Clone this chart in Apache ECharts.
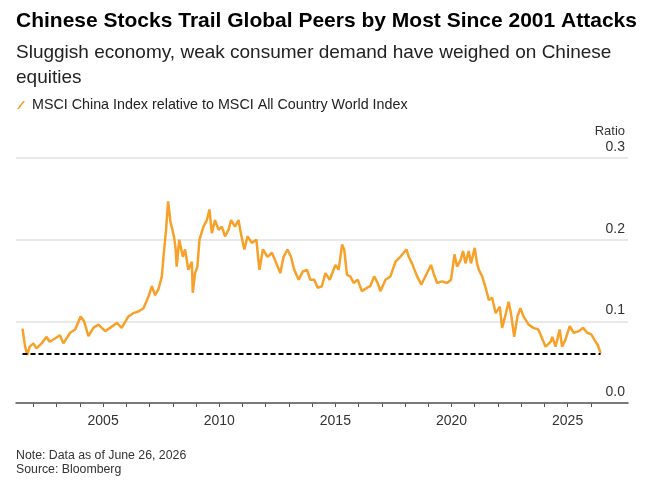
<!DOCTYPE html>
<html>
<head>
<meta charset="utf-8">
<script src="https://cdn.jsdelivr.net/npm/echarts@6/dist/echarts.min.js"></script>
<style>
html, body { margin: 0; padding: 0; background: #fff; }
#chart { width: 650px; height: 487px; }
</style>
</head>
<body>
<div id="chart"></div>
<script>
// MSCI China / MSCI ACWI ratio (decimal years)
var dates = [
	2001.53, 2001.64, 2001.74, 2001.84, 2002.0, 2002.13, 2002.35, 2002.57, 2002.7, 2002.93,
	2003.14, 2003.29, 2003.58, 2003.8, 2004.03, 2004.18, 2004.37, 2004.58, 2004.8, 2005.09,
	2005.3, 2005.59, 2005.8, 2006.09, 2006.3, 2006.52, 2006.74, 2006.95, 2007.1, 2007.24,
	2007.38, 2007.53, 2007.6, 2007.71, 2007.8, 2007.9, 2007.96, 2008.05, 2008.12, 2008.17,
	2008.28, 2008.43, 2008.53, 2008.67, 2008.82, 2008.86, 2008.96, 2009.06, 2009.15, 2009.32,
	2009.47, 2009.58, 2009.68, 2009.82, 2009.97, 2010.11, 2010.25, 2010.4, 2010.51, 2010.68,
	2010.83, 2010.93, 2011.08, 2011.22, 2011.4, 2011.6, 2011.73, 2011.88, 2012.08, 2012.27,
	2012.46, 2012.63, 2012.77, 2012.94, 2013.09, 2013.23, 2013.42, 2013.6, 2013.78, 2013.92,
	2014.09, 2014.24, 2014.42, 2014.57, 2014.76, 2015.0, 2015.14, 2015.29, 2015.38, 2015.5,
	2015.64, 2015.79, 2015.96, 2016.14, 2016.36, 2016.5, 2016.67, 2016.82, 2016.94, 2017.16,
	2017.37, 2017.59, 2017.8, 2017.94, 2018.06, 2018.16, 2018.3, 2018.52, 2018.7, 2018.91,
	2019.12, 2019.25, 2019.38, 2019.59, 2019.81, 2019.98, 2020.13, 2020.24, 2020.39, 2020.5,
	2020.6, 2020.74, 2020.84, 2021.0, 2021.1, 2021.18, 2021.32, 2021.47, 2021.61, 2021.75,
	2021.9, 2022.08, 2022.18, 2022.31, 2022.46, 2022.56, 2022.7, 2022.84, 2022.97, 2023.1,
	2023.32, 2023.53, 2023.74, 2023.89, 2024.05, 2024.27, 2024.34, 2024.48, 2024.66, 2024.76,
	2024.9, 2025.09, 2025.26, 2025.48, 2025.67, 2025.84, 2026.02, 2026.16, 2026.3, 2026.42
];
var ratio = [
	0.091, 0.069, 0.059, 0.069, 0.073, 0.067, 0.073, 0.081, 0.075, 0.079,
	0.083, 0.073, 0.086, 0.090, 0.106, 0.100, 0.082, 0.092, 0.096, 0.088,
	0.092, 0.098, 0.092, 0.106, 0.110, 0.112, 0.116, 0.130, 0.143, 0.132,
	0.139, 0.155, 0.179, 0.212, 0.247, 0.222, 0.215, 0.204, 0.190, 0.167,
	0.200, 0.179, 0.188, 0.163, 0.173, 0.135, 0.159, 0.167, 0.200, 0.216,
	0.224, 0.237, 0.208, 0.224, 0.212, 0.216, 0.204, 0.212, 0.224, 0.216,
	0.224, 0.208, 0.188, 0.204, 0.196, 0.200, 0.163, 0.188, 0.179, 0.184,
	0.171, 0.159, 0.179, 0.188, 0.179, 0.163, 0.151, 0.161, 0.163, 0.151,
	0.151, 0.141, 0.143, 0.159, 0.151, 0.169, 0.163, 0.194, 0.188, 0.157,
	0.155, 0.147, 0.151, 0.137, 0.141, 0.143, 0.155, 0.147, 0.137, 0.151,
	0.155, 0.173, 0.179, 0.184, 0.188, 0.179, 0.171, 0.155, 0.145, 0.157,
	0.169, 0.157, 0.147, 0.149, 0.147, 0.151, 0.182, 0.167, 0.175, 0.186,
	0.171, 0.186, 0.171, 0.190, 0.171, 0.163, 0.155, 0.141, 0.126, 0.129,
	0.110, 0.118, 0.092, 0.106, 0.124, 0.110, 0.081, 0.106, 0.116, 0.106,
	0.096, 0.092, 0.090, 0.080, 0.069, 0.075, 0.081, 0.069, 0.090, 0.069,
	0.077, 0.094, 0.086, 0.088, 0.092, 0.086, 0.084, 0.077, 0.071, 0.061
];
var yearTicks = [2002, 2003, 2004, 2005, 2006, 2007, 2008, 2009, 2010, 2011, 2012, 2013,
	2014, 2015, 2016, 2017, 2018, 2019, 2020, 2021, 2022, 2023, 2024, 2025, 2026];
var yearLabels = [2005, 2010, 2015, 2020, 2025];
var lowLevel = 0.06;

var seriesName = 'MSCI China Index relative to MSCI All Country World Index';
var orange = '#f7a12b';
var font = '"Liberation Sans", Arial, sans-serif';

var points = dates.map(function(d, i) { return [d, ratio[i]]; });

var myChart = echarts.init(document.getElementById('chart'));

var option = {
	animation: false,
	backgroundColor: '#fff',
	textStyle: { fontFamily: font },
	title: [{
		text: 'Chinese Stocks Trail Global Peers by Most Since 2001 Attacks',
		left: 16, top: 11, padding: 0,
		textStyle: { fontSize: 21, fontWeight: 'bold', color: '#000', fontFamily: font }
	}, {
		text: 'Sluggish economy, weak consumer demand have weighed on Chinese\nequities',
		left: 16, top: 40, padding: 0,
		textStyle: { fontSize: 19, fontWeight: 'normal', color: '#222', lineHeight: 25, fontFamily: font }
	}, {
		text: 'Note: Data as of June 26, 2026\nSource: Bloomberg',
		left: 16, top: 449, padding: 0,
		textStyle: { fontSize: 12.3, fontWeight: 'normal', color: '#333', lineHeight: 14, fontFamily: font }
	}, {
		text: 'Ratio',
		right: 25, top: 125, padding: 0,
		textStyle: { fontSize: 13, fontWeight: 'normal', color: '#333', fontFamily: font }
	}],
	legend: {
		left: 17, top: 98, padding: 0,
		icon: 'path://M0,10 L2.5,10 L10,0 L7.5,0 Z',
		itemWidth: 8, itemHeight: 11, itemGap: 6,
		textStyle: { fontSize: 14.3, color: '#222', fontFamily: font, padding: [0, 0, 0, 2] },
		data: [seriesName]
	},
	grid: { left: 16, right: 22, top: 158, bottom: 84 },
	xAxis: {
		type: 'value',
		min: 2001.25,
		max: 2027.6,
		axisLine: { lineStyle: { color: '#555', width: 1.5 } },
		axisTick: { customValues: yearTicks, length: 4, lineStyle: { color: '#555' } },
		axisLabel: {
			customValues: yearLabels,
			color: '#333', fontSize: 14, margin: 11,
			formatter: function(v) { return String(v); }
		},
		splitLine: { show: false }
	},
	yAxis: {
		type: 'value',
		position: 'right',
		min: 0, max: 0.3, interval: 0.1,
		axisLine: { show: false },
		axisTick: { show: false },
		axisLabel: {
			inside: true,
			margin: 3,
			verticalAlign: 'bottom',
			padding: [0, 0, 4, 0],
			color: '#333', fontSize: 14,
			formatter: function(v) { return v.toFixed(1); }
		},
		splitLine: { lineStyle: { color: '#e2e2e2', width: 1.5 } }
	},
	series: [{
		name: seriesName,
		type: 'line',
		data: points,
		showSymbol: false,
		color: orange,
		lineStyle: { color: orange, width: 2.5 },
		markLine: {
			silent: true,
			symbol: ['none', 'none'],
			label: { show: false },
			lineStyle: { color: '#000', type: [5, 3], width: 2 },
			data: [[
				{ coord: [dates[0], lowLevel] },
				{ coord: [dates[dates.length - 1], lowLevel] }
			]]
		}
	}]
};

myChart.setOption(option);
window.addEventListener('resize', function() { myChart.resize(); });
</script>
</body>
</html>
